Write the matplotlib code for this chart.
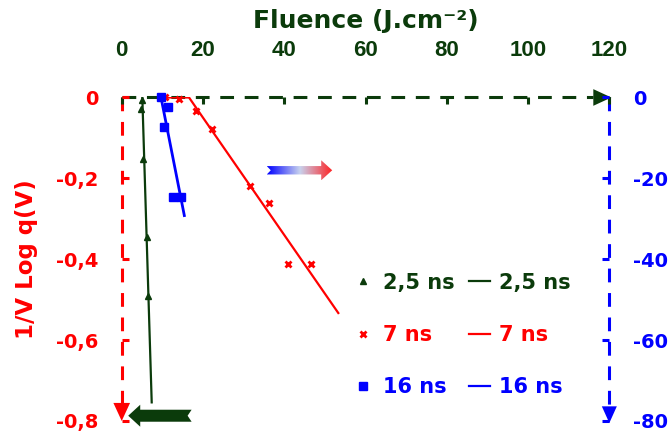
import numpy as np
import matplotlib
matplotlib.use("Agg")
import matplotlib.pyplot as plt
from matplotlib.patches import Polygon
from matplotlib.lines import Line2D
from matplotlib.colors import LinearSegmentedColormap

# ---- Datos ----
fluencia_25 = [4.9, 4.75, 5.24, 6.15, 6.55]
q_25 = [-0.006, -0.028, -0.152, -0.345, -0.492]
ajuste_25_x = [5.07, 7.38]
ajuste_25_y = [0.0, -0.754]

fluencia_7 = [10.66, 14.18, 18.29, 22.15, 31.58, 36.25, 41.0, 46.6]
q_7 = [0.0, -0.004, -0.033, -0.079, -0.219, -0.262, -0.411, -0.411]
ajuste_7_x = [10.66, 16.56, 53.3]
ajuste_7_y = [0.0, 0.0, -0.533]

fluencia_16 = [9.67, 11.47, 10.48, 12.70, 14.60]
q_16 = [0.0, -0.024, -0.074, -0.245, -0.245]
ajuste_16_x = [9.67, 15.41]
ajuste_16_y = [0.0, -0.292]

ticks_x = [0, 20, 40, 60, 80, 100, 120]
ticks_izq = [0, -0.2, -0.4, -0.6, -0.8]
etiquetas_izq = ["0", "-0,2", "-0,4", "-0,6", "-0,8"]
ticks_der = [0, -20, -40, -60, -80]
etiquetas_der = ["0", "-20", "-40", "-60", "-80"]
etiquetas_leyenda = ["2,5 ns", "7 ns", "16 ns"]

VERDE = "#0b3b0b"
ROJO = "#ff0000"
AZUL = "#0000ff"

plt.rcParams["font.family"] = ["DejaVu Sans"]
plt.rcParams["font.weight"] = "bold"


def flecha(ax, x_cola, x_punta, y, medio_cuerpo, media_cabeza, largo_cabeza, muesca):
    """Poligono de flecha horizontal; tamanos en pixeles, posicion en datos."""
    (xc, yc), (xp, _) = ax.transData.transform([(x_cola, y), (x_punta, y)])
    s = 1 if xp > xc else -1
    xb = xp - s * largo_cabeza
    pix = [(xc, yc + medio_cuerpo), (xb, yc + medio_cuerpo), (xb, yc + media_cabeza),
           (xp, yc), (xb, yc - media_cabeza), (xb, yc - medio_cuerpo),
           (xc, yc - medio_cuerpo), (xc + s * muesca, yc)]
    return ax.transData.inverted().transform(pix)


def graficar():
    fig = plt.figure(figsize=(6.71, 4.34), dpi=100)
    ax = fig.add_axes([0.1814, 0.0300, 0.7267, 0.7454])
    ax.set_xlim(0, 120)
    ax.set_ylim(-0.8, 0)
    for s in ax.spines.values():
        s.set_visible(False)

    # ejes con flechas punteadas
    ax.plot([0, 116], [0, 0], color=VERDE, lw=2.2, dashes=(4.5, 3.5), clip_on=False, zorder=1)
    ax.plot([0, 0], [0, -0.765], color=ROJO, lw=2.2, dashes=(4.5, 3.5), clip_on=False, zorder=1)
    ax.plot([120, 120], [0, -0.765], color=AZUL, lw=2.2, dashes=(4.5, 3.5), clip_on=False, zorder=1)
    estilo = "-|>,head_length=0.65,head_width=0.3"
    ax.annotate("", xy=(120.5, 0), xytext=(110, 0), annotation_clip=False,
                arrowprops=dict(arrowstyle=estilo, color=VERDE, lw=0, mutation_scale=20,
                                shrinkA=0, shrinkB=0))
    ax.annotate("", xy=(0, -0.8), xytext=(0, -0.7), annotation_clip=False,
                arrowprops=dict(arrowstyle=estilo, color=ROJO, lw=0, mutation_scale=20,
                                shrinkA=0, shrinkB=0))
    ax.annotate("", xy=(120, -0.805), xytext=(120, -0.7), annotation_clip=False,
                arrowprops=dict(arrowstyle="-|>,head_length=0.6,head_width=0.27", color=AZUL,
                                lw=0, mutation_scale=20, shrinkA=0, shrinkB=0))

    # datos y ajustes
    ax.plot(ajuste_25_x, ajuste_25_y, color=VERDE, lw=1.6, zorder=3)
    ax.plot(ajuste_7_x, ajuste_7_y, color=ROJO, lw=1.6, zorder=3)
    ax.plot(ajuste_16_x, ajuste_16_y, color=AZUL, lw=2.0, zorder=3)
    ax.plot(fluencia_25, q_25, ls="none", marker="^", ms=4, color=VERDE, zorder=4, clip_on=False)
    ax.plot(fluencia_7, q_7, ls="none", marker="x", ms=5, mew=2, color=ROJO, zorder=4, clip_on=False)
    ax.plot(fluencia_16, q_16, ls="none", marker="s", ms=5.5, color=AZUL, zorder=4, clip_on=False)

    # eje superior
    ax.xaxis.tick_top()
    ax.set_xticks(ticks_x)
    ax.tick_params(axis="x", colors=VERDE, direction="in", length=5, width=2.2,
                   pad=26, labelsize=16, labelfontfamily="Liberation Sans")
    ax.xaxis.set_label_position("top")
    ax.set_xlabel("Fluence (J.cm\u207b\u00b2)", color=VERDE, fontsize=18,
                  fontweight="bold", labelpad=9)

    # eje izquierdo
    ax.set_yticks(ticks_izq)
    ax.set_yticklabels(etiquetas_izq)
    ax.tick_params(axis="y", colors=ROJO, direction="in", length=5, width=2.2,
                   pad=17, labelsize=14)
    ax.set_ylabel("1/V Log q(V)", color=ROJO, fontsize=16.5, fontweight="bold", labelpad=13)

    # eje derecho
    ax2 = ax.twinx()
    ax2.set_ylim(-80, 0)
    for s in ax2.spines.values():
        s.set_visible(False)
    ax2.set_yticks(ticks_der)
    ax2.set_yticklabels(etiquetas_der)
    ax2.tick_params(axis="y", colors=AZUL, direction="in", length=5, width=2.2,
                    pad=17, labelsize=14)

    # flecha degradada (azul -> rojo)
    vert = flecha(ax, 35.7, 51.8, -0.18, 4.2, 10, 11, 4)
    poli = Polygon(vert, closed=True, facecolor="none", edgecolor="none")
    ax.add_patch(poli)
    cmap = LinearSegmentedColormap.from_list("br", ["#0000ff", "#c8d2ee", "#ff2020"])
    grad = np.linspace(0, 1, 256).reshape(1, -1)
    im = ax.imshow(grad, extent=[vert[:, 0].min(), vert[:, 0].max(),
                                 vert[:, 1].min(), vert[:, 1].max()],
                   aspect="auto", cmap=cmap, zorder=5)
    im.set_clip_path(poli)

    # flecha verde inferior
    vert2 = flecha(ax, 17.2, 1.6, -0.787, 6, 11, 12, 4)
    ax.add_patch(Polygon(vert2, closed=True, facecolor=VERDE, edgecolor="none",
                         zorder=5, clip_on=False))

    ax.set_xlim(0, 120)
    ax.set_ylim(-0.8, 0)

    # leyenda
    marcas = [Line2D([], [], ls="none", marker="^", ms=4, color=VERDE),
              Line2D([], [], ls="none", marker="x", ms=5, mew=2, color=ROJO),
              Line2D([], [], ls="none", marker="s", ms=5.5, color=AZUL)]
    lineas = [Line2D([], [], color=c, lw=1.6) for c in (VERDE, ROJO, AZUL)]
    leg = ax.legend(marcas + lineas, etiquetas_leyenda + etiquetas_leyenda, ncol=2,
                    frameon=False, fontsize=15, labelcolor="linecolor",
                    handlelength=1.0, handletextpad=0.43, columnspacing=0.72,
                    labelspacing=1.55, borderpad=0, borderaxespad=0,
                    loc="center left", bbox_to_anchor=(353 / 671, 1 - 335 / 434),
                    bbox_transform=fig.transFigure)
    for t in leg.get_texts():
        t.set_fontweight("bold")

    fig.savefig("out.png", dpi=100)


if __name__ == "__main__":
    graficar()
